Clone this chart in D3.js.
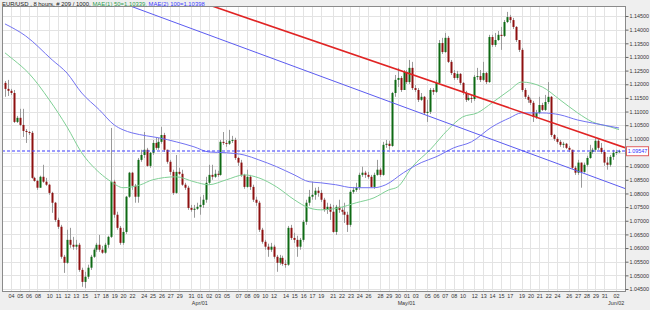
<!DOCTYPE html>
<html>
<head>
<meta charset="utf-8">
<script src="https://cdn.jsdelivr.net/npm/d3@7"></script>
<style>
  body { margin: 0; background: #fff; }
  svg { display: block; font-family: "Liberation Sans", Arial, sans-serif; }
</style>
</head>
<body>
<div id="chart"></div>
<script>
// EUR/USD, 8 hour candles, 209 bars (first bar: Tue 3 Mar 2015 08:00 UTC)
const open = [
  1.1205,1.1183,1.1176,1.1168,1.1062,1.1077,1.1051,1.1029,1.1025,1.1022,
  1.0857,1.0846,1.0821,1.0861,1.0843,1.0832,1.0802,1.0766,1.0703,1.0678,
  1.0568,1.0546,1.0630,1.0612,1.0605,1.0612,1.0520,1.0476,1.0495,1.0528,
  1.0568,1.0594,1.0612,1.0594,1.0583,1.0612,1.0641,1.0843,1.0722,1.0674,
  1.0619,1.0659,1.0788,1.0876,1.0828,1.0788,1.0923,1.0941,1.0960,1.0901,
  1.0949,1.0985,1.0967,1.0989,1.1014,1.0960,1.0916,1.0879,1.0802,1.0879,
  1.0872,1.0832,1.0821,1.0747,1.0740,1.0744,1.0751,1.0758,1.0777,1.0839,
  1.0868,1.0861,1.0872,1.0868,1.0989,1.0985,1.0982,1.0993,1.0996,1.0930,
  1.0913,1.0868,1.0824,1.0861,1.0824,1.0777,1.0766,1.0667,1.0623,1.0605,
  1.0594,1.0605,1.0568,1.0546,1.0564,1.0542,1.0539,1.0674,1.0637,1.0630,
  1.0605,1.0630,1.0696,1.0766,1.0788,1.0795,1.0810,1.0802,1.0777,1.0740,
  1.0751,1.0733,1.0659,1.0751,1.0740,1.0733,1.0722,1.0685,1.0806,1.0813,
  1.0821,1.0868,1.0876,1.0868,1.0861,1.0824,1.0868,1.0887,1.0868,1.0978,
  1.0982,1.0974,1.1168,1.1216,1.1223,1.1179,1.1245,1.1208,1.1260,1.1186,
  1.1179,1.1143,1.1154,1.1095,1.1099,1.1179,1.1172,1.1205,1.1351,1.1318,
  1.1370,1.1282,1.1241,1.1223,1.1238,1.1205,1.1168,1.1143,1.1150,1.1146,
  1.1227,1.1230,1.1216,1.1241,1.1208,1.1373,1.1344,1.1362,1.1381,1.1377,
  1.1428,1.1446,1.1435,1.1410,1.1362,1.1326,1.1179,1.1154,1.1143,1.1132,
  1.1080,1.1095,1.1124,1.1106,1.1135,1.1154,1.1014,1.1000,1.0989,1.0978,
  1.0982,1.0967,1.0960,1.0894,1.0876,1.0913,1.0879,1.0905,1.0930,1.0952,
  1.0960,1.0993,1.0967,1.0952,1.0913,1.0905,1.0934,1.0949,1.0952
];
const high = [
  1.1212,1.1216,1.1183,1.1179,1.1084,1.1110,1.1110,1.1036,1.1029,1.1029,
  1.0861,1.0850,1.0865,1.0905,1.0857,1.0835,1.0806,1.0769,1.0711,1.0685,
  1.0575,1.0667,1.0674,1.0641,1.0630,1.0619,1.0528,1.0513,1.0539,1.0575,
  1.0601,1.0619,1.0648,1.0608,1.0619,1.0645,1.1040,1.0850,1.0733,1.0681,
  1.0674,1.0791,1.0879,1.0879,1.0835,1.0930,1.0960,1.1025,1.0967,1.0952,
  1.0996,1.1004,1.1004,1.1044,1.1022,1.0960,1.0923,1.0887,1.0941,1.0894,
  1.0887,1.0839,1.0828,1.0758,1.0758,1.0766,1.0788,1.0795,1.0861,1.0905,
  1.0905,1.0887,1.0883,1.0996,1.1025,1.0996,1.1033,1.1011,1.1004,1.0934,
  1.0923,1.0872,1.0887,1.0868,1.0832,1.0788,1.0773,1.0674,1.0630,1.0616,
  1.0619,1.0612,1.0575,1.0575,1.0572,1.0557,1.0681,1.0685,1.0656,1.0645,
  1.0637,1.0703,1.0777,1.0813,1.0843,1.0821,1.0824,1.0813,1.0784,1.0766,
  1.0762,1.0758,1.0758,1.0777,1.0751,1.0766,1.0733,1.0813,1.0824,1.0839,
  1.0876,1.0898,1.0883,1.0879,1.0868,1.0876,1.0923,1.0894,1.0989,1.0996,
  1.0993,1.1172,1.1234,1.1260,1.1230,1.1252,1.1252,1.1289,1.1282,1.1197,
  1.1186,1.1168,1.1157,1.1143,1.1186,1.1186,1.1216,1.1362,1.1370,1.1388,
  1.1377,1.1289,1.1252,1.1249,1.1241,1.1208,1.1176,1.1165,1.1161,1.1234,
  1.1260,1.1252,1.1282,1.1245,1.1381,1.1381,1.1388,1.1395,1.1410,1.1435,
  1.1465,1.1454,1.1443,1.1413,1.1362,1.1333,1.1186,1.1161,1.1150,1.1139,
  1.1106,1.1154,1.1132,1.1161,1.1208,1.1157,1.1018,1.1007,1.0996,1.0989,
  1.0985,1.0974,1.0960,1.0901,1.0923,1.0913,1.0913,1.0938,1.0978,1.0967,
  1.1004,1.1000,1.0985,1.0960,1.0934,1.0941,1.0960,1.0960,1.0960
];
const low = [
  1.1154,1.1157,1.1161,1.1058,1.1058,1.1047,1.1007,1.0985,1.1014,1.0854,
  1.0843,1.0813,1.0821,1.0839,1.0828,1.0795,1.0729,1.0696,1.0670,1.0561,
  1.0509,1.0542,1.0601,1.0594,1.0594,1.0513,1.0458,1.0454,1.0487,1.0520,
  1.0564,1.0586,1.0586,1.0579,1.0579,1.0601,1.0637,1.0711,1.0667,1.0612,
  1.0612,1.0652,1.0784,1.0813,1.0766,1.0766,1.0916,1.0930,1.0898,1.0894,
  1.0941,1.0960,1.0960,1.0982,1.0952,1.0909,1.0868,1.0795,1.0799,1.0868,
  1.0828,1.0813,1.0740,1.0733,1.0711,1.0740,1.0722,1.0747,1.0766,1.0832,
  1.0850,1.0857,1.0861,1.0865,1.0978,1.0971,1.0978,1.0985,1.0923,1.0901,
  1.0861,1.0817,1.0821,1.0813,1.0769,1.0755,1.0659,1.0616,1.0594,1.0568,
  1.0586,1.0561,1.0513,1.0539,1.0535,1.0528,1.0535,1.0630,1.0619,1.0568,
  1.0594,1.0623,1.0685,1.0755,1.0777,1.0777,1.0788,1.0769,1.0733,1.0725,
  1.0703,1.0656,1.0648,1.0729,1.0722,1.0692,1.0659,1.0678,1.0799,1.0806,
  1.0813,1.0861,1.0857,1.0854,1.0821,1.0817,1.0865,1.0861,1.0865,1.0967,
  1.0960,1.0971,1.1154,1.1190,1.1172,1.1179,1.1201,1.1201,1.1179,1.1172,
  1.1135,1.1139,1.1088,1.1062,1.1091,1.1161,1.1168,1.1201,1.1311,1.1315,
  1.1278,1.1234,1.1216,1.1216,1.1197,1.1161,1.1135,1.1139,1.1132,1.1139,
  1.1216,1.1208,1.1212,1.1201,1.1205,1.1337,1.1337,1.1359,1.1326,1.1373,
  1.1424,1.1424,1.1402,1.1355,1.1318,1.1172,1.1146,1.1132,1.1124,1.1062,
  1.1073,1.1091,1.1102,1.1102,1.1128,1.1007,1.0993,1.0982,1.0971,1.0967,
  1.0963,1.0952,1.0890,1.0868,1.0868,1.0821,1.0876,1.0898,1.0927,1.0945,
  1.0952,1.0960,1.0945,1.0901,1.0887,1.0898,1.0923,1.0941,1.0949
];
const close = [
  1.1183,1.1176,1.1168,1.1062,1.1077,1.1051,1.1029,1.1025,1.1022,1.0857,
  1.0846,1.0821,1.0861,1.0843,1.0832,1.0802,1.0766,1.0703,1.0678,1.0568,
  1.0546,1.0630,1.0612,1.0605,1.0612,1.0520,1.0476,1.0495,1.0528,1.0568,
  1.0594,1.0612,1.0594,1.0583,1.0612,1.0641,1.0843,1.0722,1.0674,1.0619,
  1.0659,1.0788,1.0876,1.0828,1.0788,1.0923,1.0941,1.0960,1.0901,1.0949,
  1.0985,1.0967,1.0989,1.1014,1.0960,1.0916,1.0879,1.0802,1.0879,1.0872,
  1.0832,1.0821,1.0747,1.0740,1.0744,1.0751,1.0758,1.0777,1.0839,1.0868,
  1.0861,1.0872,1.0868,1.0989,1.0985,1.0982,1.0993,1.0996,1.0930,1.0913,
  1.0868,1.0824,1.0861,1.0824,1.0777,1.0766,1.0667,1.0623,1.0605,1.0594,
  1.0605,1.0568,1.0546,1.0564,1.0542,1.0539,1.0674,1.0637,1.0630,1.0605,
  1.0630,1.0696,1.0766,1.0788,1.0795,1.0810,1.0802,1.0777,1.0740,1.0751,
  1.0733,1.0659,1.0751,1.0740,1.0733,1.0722,1.0685,1.0806,1.0813,1.0821,
  1.0868,1.0876,1.0868,1.0861,1.0824,1.0868,1.0887,1.0868,1.0978,1.0982,
  1.0974,1.1168,1.1216,1.1223,1.1179,1.1245,1.1208,1.1260,1.1186,1.1179,
  1.1143,1.1154,1.1095,1.1099,1.1179,1.1172,1.1205,1.1351,1.1318,1.1370,
  1.1282,1.1241,1.1223,1.1238,1.1205,1.1168,1.1143,1.1150,1.1146,1.1227,
  1.1230,1.1216,1.1241,1.1208,1.1373,1.1344,1.1362,1.1381,1.1377,1.1428,
  1.1446,1.1435,1.1410,1.1362,1.1326,1.1179,1.1154,1.1143,1.1132,1.1080,
  1.1095,1.1124,1.1106,1.1135,1.1154,1.1014,1.1000,1.0989,1.0978,1.0982,
  1.0967,1.0960,1.0894,1.0876,1.0913,1.0879,1.0905,1.0930,1.0952,1.0960,
  1.0993,1.0967,1.0952,1.0913,1.0905,1.0934,1.0949,1.0952,1.09547
];

// moving averages, read at bar positions
const ma50Bar = [0,3,8,15,21,26,32,36,40,46,50,58,64,69,75,81,86,92,98,103,107,113,119,125,130,133,138,144,150,155,160,165,171,175,182,188,194,199,205,208];
const ma50 = [1.1315,1.1289,1.1241,1.1143,1.1044,1.0949,1.0876,1.0843,1.0821,1.0832,1.0850,1.0861,1.0843,1.0832,1.0850,1.0868,1.0857,1.0824,1.0777,1.0747,1.0740,1.0747,1.0766,1.0784,1.0813,1.0824,1.0898,1.0960,1.1033,1.1080,1.1095,1.1132,1.1179,1.1208,1.1190,1.1143,1.1095,1.1062,1.1044,1.10339];
const ma100Bar = [0,7,16,21,26,32,37,40,43,48,52,58,64,69,75,81,86,92,98,103,107,112,118,125,129,135,141,146,152,158,165,171,175,182,188,194,199,208];
const ma100 = [1.1421,1.1377,1.1289,1.1241,1.1168,1.1106,1.1051,1.1033,1.1022,1.1011,1.1004,1.0989,1.0971,1.0952,1.0949,1.0941,1.0923,1.0898,1.0868,1.0843,1.0839,1.0832,1.0821,1.0821,1.0832,1.0876,1.0913,1.0934,1.0967,1.0989,1.1044,1.1077,1.1095,1.1095,1.1088,1.1069,1.1058,1.10398];

// hand drawn trend lines: two anchor points [bar, price]
const redTrend = [[100, 1.1376], [200, 1.1005]];
const blueTrend = [[100, 1.1257], [200, 1.0858]];

const yTicks = d3.range(0, 21).map(k => 1.045 + k * 0.005);

const W = 650, H = 310;
const plot = {left: 2, right: 625, top: 6, bottom: 291};

// bar times: 8h bars, market closed Sat and Sun before 16:00
const times = [];
let t = Date.UTC(2015, 2, 3, 8);
for (let i = 0; i < close.length; i++) {
  times.push(new Date(t));
  t += 8 * 3600e3;
  const d = new Date(t);
  if (d.getUTCDay() === 6) t += (24 + 16) * 3600e3;
  else if (d.getUTCDay() === 0 && d.getUTCHours() < 16) t = Date.UTC(d.getUTCFullYear(), d.getUTCMonth(), d.getUTCDate(), 16);
}
const dayTicks = d3.range(1, times.length).filter(i =>
  times[i].getUTCDate() !== times[i - 1].getUTCDate() && times[i].getUTCDay() !== 1);
const monthTicks = dayTicks.filter((i, k) => k > 0 && times[i].getUTCMonth() !== times[dayTicks[k - 1]].getUTCMonth());
const fmtDay = d3.utcFormat("%d"), fmtMonth = d3.utcFormat("%b/%d");

const x = d3.scaleLinear().domain([-0.5, close.length - 0.5]).range([3.5, 620.5]);
const y = d3.scaleLinear().domain([1.045, 1.145]).range([289, 16]);

const svg = d3.select("#chart").append("svg").attr("width", W).attr("height", H);
svg.append("rect").attr("width", W).attr("height", H).attr("fill", "#efefef");
svg.append("rect")
    .attr("x", plot.left).attr("y", plot.top)
    .attr("width", plot.right - plot.left).attr("height", plot.bottom - plot.top)
    .attr("fill", "#fff");

svg.append("clipPath").attr("id", "clip").append("rect")
    .attr("x", plot.left).attr("y", plot.top)
    .attr("width", plot.right - plot.left).attr("height", plot.bottom - plot.top);

const g = svg.append("g").attr("clip-path", "url(#clip)");

// grid
g.append("g").selectAll("line").data(yTicks).join("line")
    .attr("x1", plot.left).attr("x2", plot.right)
    .attr("y1", d => Math.round(y(d)) + 0.5).attr("y2", d => Math.round(y(d)) + 0.5)
    .attr("stroke", "#e3e3e3");
g.append("g").selectAll("line").data(dayTicks).join("line")
    .attr("x1", d => Math.round(x(d)) + 0.5).attr("x2", d => Math.round(x(d)) + 0.5)
    .attr("y1", plot.top).attr("y2", plot.bottom)
    .attr("stroke", "#e3e3e3");

// candles
const bars = d3.range(close.length);
g.append("g").selectAll("line").data(bars).join("line")
    .attr("x1", i => Math.round(x(i)) + 0.5).attr("x2", i => Math.round(x(i)) + 0.5)
    .attr("y1", i => y(high[i])).attr("y2", i => y(low[i]))
    .attr("stroke", "#9a9a9a");
g.append("g").selectAll("rect").data(bars).join("rect")
    .attr("x", i => Math.round(x(i)) - 0.5)
    .attr("width", 2)
    .attr("y", i => y(Math.max(open[i], close[i])))
    .attr("height", i => Math.max(1, Math.abs(y(open[i]) - y(close[i]))))
    .attr("fill", i => close[i] >= open[i] ? "#0e6a14" : "#8e1010");

// moving averages
const maLine = d3.line().x(d => x(d[0])).y(d => y(d[1])).curve(d3.curveMonotoneX);
g.append("path").datum(ma50Bar.map((b, k) => [b, ma50[k]]))
    .attr("d", maLine).attr("fill", "none").attr("stroke", "#7fd095").attr("stroke-width", 1);
g.append("path").datum(ma100Bar.map((b, k) => [b, ma100[k]]))
    .attr("d", maLine).attr("fill", "none").attr("stroke", "#7272f2").attr("stroke-width", 1);

// trend lines, extended over the plot
function trendPath(tr) {
  const [[b0, p0], [b1, p1]] = tr;
  const at = b => p0 + (p1 - p0) * (b - b0) / (b1 - b0);
  const bl = x.invert(plot.left), br = x.invert(plot.right);
  return [[bl, at(bl)], [br, at(br)]];
}
const straight = d3.line().x(d => x(d[0])).y(d => y(d[1]));
g.append("path").datum(trendPath(blueTrend))
    .attr("d", straight).attr("stroke", "#5b5bf0").attr("stroke-width", 1).attr("fill", "none");
g.append("path").datum(trendPath(redTrend))
    .attr("d", straight).attr("stroke", "#e02424").attr("stroke-width", 1.6).attr("fill", "none");

// last price line
const last = close[close.length - 1];
g.append("line")
    .attr("x1", plot.left).attr("x2", plot.right)
    .attr("y1", Math.round(y(last))).attr("y2", Math.round(y(last)))
    .attr("stroke", "#3a3aff").attr("stroke-width", 1.2).attr("stroke-dasharray", "3,2");

// frame
svg.append("rect")
    .attr("x", plot.left + 0.5).attr("y", plot.top + 0.5)
    .attr("width", plot.right - plot.left).attr("height", plot.bottom - plot.top)
    .attr("fill", "none").attr("stroke", "#8a8a8a");

// right axis (the label under the last price box is hidden, as on the original)
const yAxis = svg.append("g").attr("transform", `translate(${plot.right + 0.5},0)`)
    .call(d3.axisRight(y).tickValues(yTicks).tickFormat(d3.format(".5f")).tickSize(3).tickPadding(1));
yAxis.select(".domain").remove();
yAxis.selectAll("line").attr("stroke", "#666");
yAxis.selectAll("text").attr("font-size", 5.4).attr("fill", "#333").attr("font-family", null);
yAxis.selectAll(".tick").filter(d => Math.abs(y(d) - y(close[close.length - 1])) < 8).select("text").remove();

// bottom axis
const xAxis = svg.append("g").attr("transform", `translate(0,${plot.bottom + 0.5})`)
    .call(d3.axisBottom(x).tickValues(dayTicks).tickFormat(i => fmtDay(times[i])).tickSize(0).tickPadding(3));
xAxis.select(".domain").remove();
xAxis.selectAll("text").attr("font-size", 5.4).attr("fill", "#333").attr("font-family", null);

svg.append("g").selectAll("text").data(monthTicks).join("text")
    .attr("x", i => x(i)).attr("y", 305)
    .attr("text-anchor", "middle").attr("font-size", 5.4).attr("fill", "#333")
    .text(i => fmtMonth(times[i]));

// last price box
const by = y(last);
svg.append("rect").attr("x", 626.5).attr("y", by - 4.5).attr("width", 22).attr("height", 9)
    .attr("fill", "#fff").attr("stroke", "#e06060");
svg.append("text").attr("x", 637.5).attr("y", by + 2).attr("text-anchor", "middle")
    .attr("font-size", 5.4).attr("fill", "#3030ff").text(d3.format(".5f")(last));

// title
const title = svg.append("text").attr("x", 2).attr("y", 5.5).attr("font-size", 5.9);
title.append("tspan").attr("fill", "#222").text("EUR/USD , 8 hours, # 209 / 1000, ");
title.append("tspan").attr("fill", "#2e9e50").text(`MAE(1) 50=${d3.format(".5f")(ma50[ma50.length - 1])}, `);
title.append("tspan").attr("fill", "#3b3bff").text(`MAE(2) 100=${d3.format(".5f")(ma100[ma100.length - 1])}`);
</script>
</body>
</html>
